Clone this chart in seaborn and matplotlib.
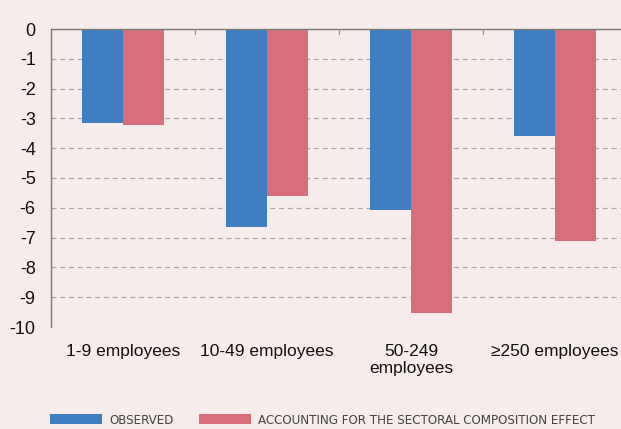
import matplotlib
matplotlib.use("Agg")
import matplotlib.pyplot as plt
import seaborn as sns
import pandas as pd
from matplotlib.patches import Patch
from matplotlib.font_manager import FontProperties

categories = ["1-9 employees", "10-49 employees", "50-249\nemployees", "≥250 employees"]
series_names = ["OBSERVED", "ACCOUNTING FOR THE SECTORAL COMPOSITION EFFECT"]
observed = [-3.17, -6.65, -6.07, -3.59]
sectoral = [-3.23, -5.60, -9.53, -7.11]
yticks = [0, -1, -2, -3, -4, -5, -6, -7, -8, -9, -10]

colors = ["#3f7fc1", "#d96e7b"]
bg = "#f7ecec"

df = pd.DataFrame({
    "category": categories * 2,
    "series": [series_names[0]] * 4 + [series_names[1]] * 4,
    "value": observed + sectoral,
})

sns.set_style("white")
plt.rcParams["font.family"] = ["Liberation Sans", "DejaVu Sans"]

fig = plt.figure(figsize=(6.21, 4.29), dpi=100, facecolor=bg)
ax = fig.add_axes([51 / 621, 1 - 327 / 429, 576 / 621, 298 / 429])
ax.set_facecolor(bg)

sns.barplot(data=df, x="category", y="value", hue="series", order=categories,
            hue_order=series_names, palette=colors, width=0.57, saturation=1,
            ax=ax, legend=False, linewidth=0)

ax.set_ylim(-10, 0)
ax.set_xlim(-0.5, 3.5)
ax.set_yticks(yticks)
ax.set_yticklabels([str(v) for v in yticks], fontsize=13, color="#111111")
ax.yaxis.grid(True, linestyle=(0, (4, 3)), color="#a8a8a8", linewidth=0.9)
ax.set_axisbelow(True)
ax.tick_params(axis="y", length=0, pad=11)
ax.tick_params(axis="x", length=0, pad=12, labelsize=12.5, labelcolor="#111111")
ax.set_xlabel("")
ax.set_ylabel("")

for s in ["right", "bottom"]:
    ax.spines[s].set_visible(False)
for s in ["left", "top"]:
    ax.spines[s].set_color("#7a7a7a")
    ax.spines[s].set_linewidth(1.0)

for xb in [0.5, 1.5, 2.5]:
    ax.plot([xb, xb], [0, -0.17], color="#9a9a9a", lw=1.0, clip_on=False, zorder=5)

legend_font = FontProperties(family="DejaVu Sans", stretch="condensed", size=9.5)
handles = [Patch(facecolor=c, edgecolor="none") for c in colors]
leg = fig.legend(handles, series_names, loc="center left", bbox_to_anchor=(50 / 621, 1 - 420 / 429),
                 borderaxespad=0, borderpad=0,
                 ncol=2, frameon=False, handlelength=3.95, handleheight=0.85,
                 columnspacing=1.9, handletextpad=0.55, prop=legend_font)
for t in leg.get_texts():
    t.set_color("#444444")

fig.savefig("out.png", dpi=100, facecolor=bg)
